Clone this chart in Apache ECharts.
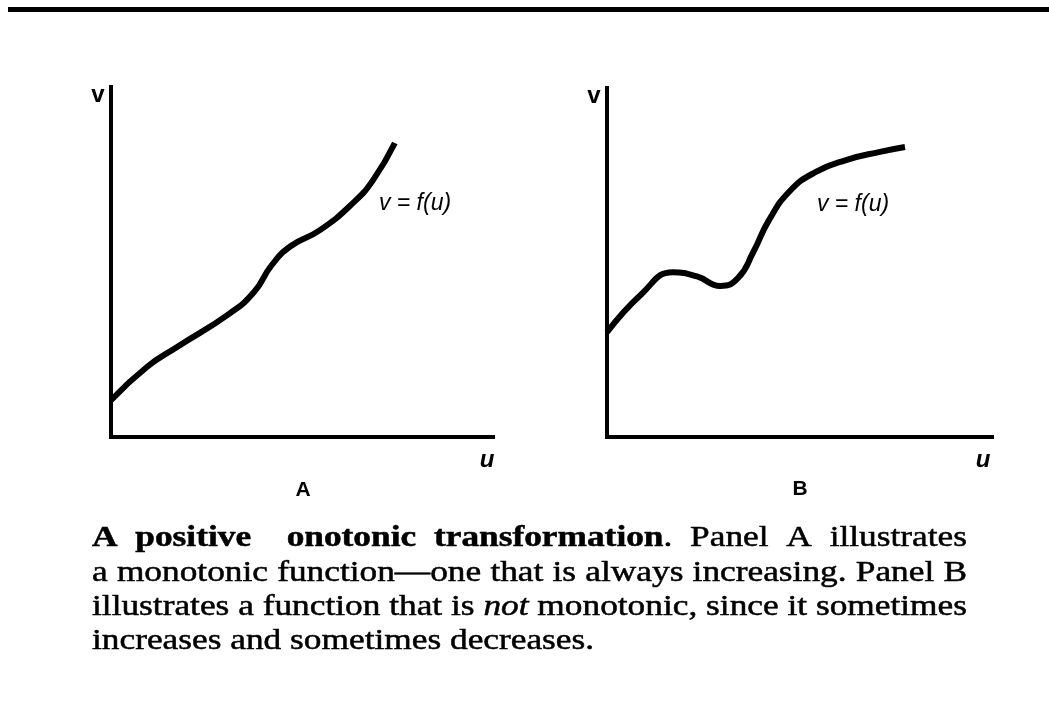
<!DOCTYPE html>
<html>
<head>
<meta charset="utf-8">
<title>Monotonic transformation</title>
<script src="https://cdn.jsdelivr.net/npm/echarts@6/dist/echarts.min.js"></script>
<style>
  html, body { margin: 0; padding: 0; background: #fff; }
  #chart { width: 1049px; height: 714px; }
</style>
</head>
<body>
<div id="chart"></div>
<script>
// panel A: monotonic curve (u, v on a 0..10 scale)
const uA = [0, 0.94, 1.73, 3.12, 3.75, 4.20, 4.70, 5.47, 6.34, 6.86, 7.43];
const vA = [1.05, 2.0, 2.57, 3.54, 4.15, 4.90, 5.45, 5.91, 6.69, 7.34, 8.40];
// panel B: non-monotonic curve
const uB = [0, 0.90, 1.71, 2.34, 2.94, 3.40, 3.80, 4.20, 4.75, 5.40, 6.23, 7.09, 7.74];
const vB = [3.0, 4.10, 4.72, 4.60, 4.33, 4.55, 5.30, 6.20, 7.05, 7.58, 7.94, 8.17, 8.31];

const panelNames = ['A', 'B'];
const curveLabel = 'v = f(u)';
// caption: *bold*, _italic_, ~ = extra gap
const captionLines = [
  '*A* *positive* ~ *onotonic* *transformation*. Panel A illustrates',
  'a monotonic function\u2014one that is always increasing. Panel B',
  'illustrates a function that is _not_ monotonic, since it sometimes',
  'increases and sometimes decreases.'
];

const chart = echarts.init(document.getElementById('chart'));

const axisStyle = { show: true, lineStyle: { color: '#000', width: 4, cap: 'square' } };
function xAx(i) {
  return { gridIndex: i, type: 'value', min: 0, max: 10, axisLine: axisStyle,
    axisTick: { show: false }, axisLabel: { show: false }, splitLine: { show: false } };
}
function yAx(i) {
  return { gridIndex: i, type: 'value', min: 0, max: 10, axisLine: axisStyle,
    axisTick: { show: false }, axisLabel: { show: false }, splitLine: { show: false } };
}
function curve(i, us, vs) {
  return { type: 'line', xAxisIndex: i, yAxisIndex: i, smooth: 0.5,
    showSymbol: false, symbol: 'none', silent: true,
    lineStyle: { color: '#000', width: 6, cap: 'butt' },
    data: us.map((u, k) => [u, vs[k]]) };
}

// caption layout: measure words, then justify between left and right edges
const FS = 30, FAM = '"Liberation Serif", "Times New Roman", serif';
const fonts = { r: FS + 'px ' + FAM, b: 'bold ' + FS + 'px ' + FAM, i: 'italic ' + FS + 'px ' + FAM };
const ctx = document.createElement('canvas').getContext('2d');
function measure(t, k) { ctx.font = fonts[k]; return ctx.measureText(t).width; }
function parseWord(w) {
  const segs = [];
  const re = /\*([^*]+)\*|_([^_]+)_|([^*_]+)/g;
  let m;
  while ((m = re.exec(w))) {
    if (m[1]) segs.push(['b', m[1]]);
    else if (m[2]) segs.push(['i', m[2]]);
    else segs.push(['r', m[3]]);
  }
  return segs;
}
const capLeft = 92, capRight = 967, baselines = [548, 583, 617, 651];
const parsed = captionLines.map(l => l.split(' ').map(w => w === '~' ? [] : parseWord(w)));
const spaceW = measure(' ', 'r');
function wordW(segs) { return segs.reduce((s, g) => s + measure(g[1], g[0]), 0); }
// horizontal stretch so the fullest line fits with normal spaces
let sx = Infinity;
parsed.slice(0, 3).forEach(ws => {
  const w = ws.reduce((s, seg) => s + wordW(seg), 0) + spaceW * (ws.length - 1);
  sx = Math.min(sx, (capRight - capLeft) / w);
});
const captionEls = [];
parsed.forEach((ws, li) => {
  const widths = ws.map(w => wordW(w) * sx);
  const total = widths.reduce((a, b) => a + b, 0);
  const gap = li < 3 ? (capRight - capLeft - total) / (ws.length - 1) : spaceW * sx;
  let x = capLeft;
  ws.forEach(segs => {
    segs.forEach(g => {
      captionEls.push({ type: 'text', x: x, y: baselines[li] - 0.34 * FS, scaleX: sx, silent: true,
        style: { text: g[1], font: fonts[g[0]], fill: '#000', stroke: '#000', lineWidth: 0.5,
          verticalAlign: 'middle', align: 'left' } });
      x += measure(g[1], g[0]) * sx;
    });
    x += gap;
  });
});

const sans = '"Liberation Sans", Arial, sans-serif';
function label(txt, x, y, size, italic, bold) {
  return { type: 'text', x: x, y: y, silent: true,
    style: { text: txt, fill: '#000', align: 'center', verticalAlign: 'middle',
      font: (italic ? 'italic ' : '') + (bold ? 'bold ' : '') + size + 'px ' + sans } };
}

chart.setOption({
  backgroundColor: '#fff',
  animation: false,
  grid: [
    { left: 111, top: 87, width: 382, height: 350 },
    { left: 607, top: 88, width: 385, height: 349 }
  ],
  xAxis: [xAx(0), xAx(1)],
  yAxis: [yAx(0), yAx(1)],
  series: [curve(0, uA, vA), curve(1, uB, vB)],
  graphic: [
    { type: 'rect', shape: { x: 8, y: 7, width: 1041, height: 5 }, style: { fill: '#000' }, silent: true },
    label('v', 98, 95, 24, false, true),
    label('v', 594, 96, 24, false, true),
    label('u', 487, 460, 24, true, true),
    label('u', 983, 460, 24, true, true),
    label(panelNames[0], 303, 490, 21, false, true),
    label(panelNames[1], 800, 489, 21, false, true),
    label(curveLabel, 415, 204, 23, true, false),
    label(curveLabel, 853, 205, 23, true, false)
  ].concat(captionEls)
});
</script>
</body>
</html>
